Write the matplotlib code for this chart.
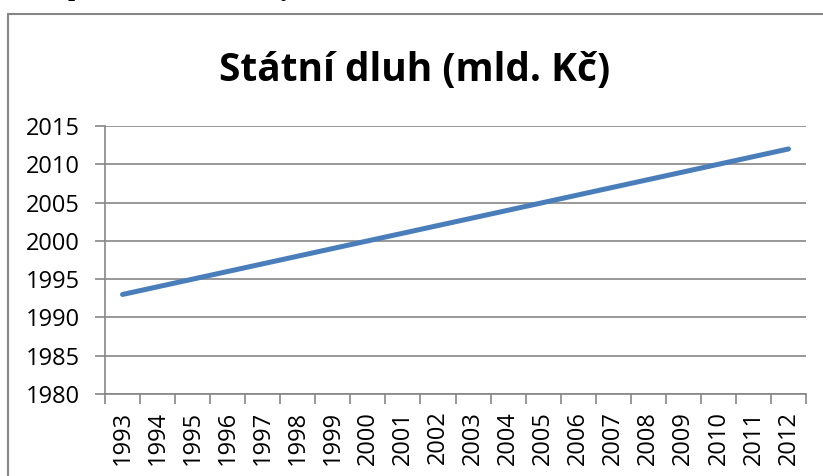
import matplotlib
matplotlib.use("Agg")
import matplotlib.pyplot as plt
from matplotlib.patches import Rectangle

years = [str(y) for y in range(1993, 2013)]
values = [1993, 1994, 1995, 1996, 1997, 1998, 1999, 2000, 2001, 2002,
          2003, 2004, 2005, 2006, 2007, 2008, 2009, 2010, 2011, 2012]
y_ticks = [1980, 1985, 1990, 1995, 2000, 2005, 2010, 2015]
title = "Státní dluh (mld. Kč)"

W, H = 823, 476
grey = "#868686"

fig = plt.figure(figsize=(W / 100, H / 100), dpi=100)
fig.patch.set_facecolor("white")

# chart frame (runs off the right/bottom edge like the cropped screenshot)
fig.patches.append(Rectangle((8 / W, -0.1), 1.2, (H - 14) / H + 0.1,
                             transform=fig.transFigure, fill=False,
                             edgecolor=grey, linewidth=1.5))

# descenders of the cut-off heading above the chart
for x, ch in [(68, "p"), (281, "y")]:
    fig.text(x / W, (H + 4) / H, ch, fontsize=18, fontweight="bold",
             family="Liberation Serif", va="baseline", ha="left")

ax = fig.add_axes([105 / W, (H - 394) / H, (806 - 105) / W, (394 - 126) / H])
pos = list(range(len(years)))
ax.plot(pos, values, color="#4A7EBB", linewidth=3.6, solid_capstyle="round")

ax.set_xlim(-0.5, len(years) - 0.5)
ax.set_ylim(1980, 2015)
ax.set_yticks(y_ticks)
ax.set_yticklabels([str(v) for v in y_ticks])
ax.yaxis.grid(True, color=grey, linewidth=1.2)
ax.set_axisbelow(True)

ax.set_xticks([p - 0.5 for p in pos] + [len(years) - 0.5])
ax.set_xticklabels([])
ax.set_xticks(pos, minor=True)
ax.set_xticklabels(years, minor=True, rotation=90, family="Open Sans",
                   fontsize=17)
ax.tick_params(axis="x", which="major", length=7, color=grey, width=1.2)
ax.tick_params(axis="x", which="minor", length=0, pad=12)
ax.tick_params(axis="y", length=7, color=grey, width=1.2, pad=11)
for lbl in ax.get_yticklabels():
    lbl.set_family("Open Sans")
    lbl.set_fontsize(17)

for side in ["top", "right"]:
    ax.spines[side].set_visible(False)
for side in ["left", "bottom"]:
    ax.spines[side].set_color(grey)
    ax.spines[side].set_linewidth(1.2)

fig.text(415 / W, (H - 70) / H, title, ha="center", va="center",
         fontsize=28, fontweight="bold", family="Open Sans")

fig.savefig("out.png", dpi=100)
